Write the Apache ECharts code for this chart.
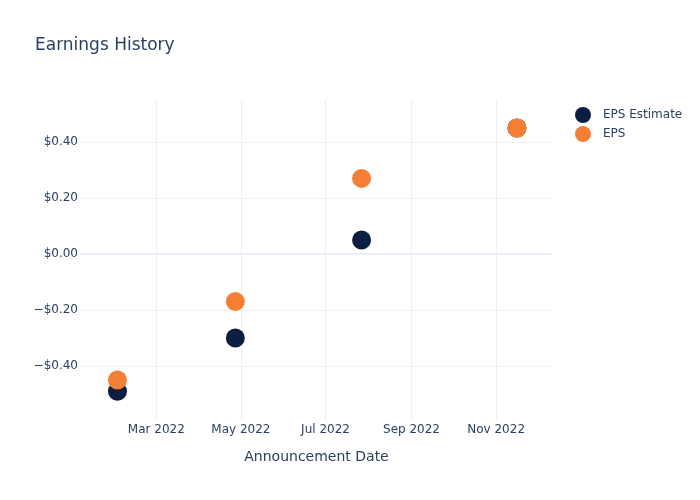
<!DOCTYPE html>
<html>
<head>
<meta charset="utf-8">
<script src="https://cdn.jsdelivr.net/npm/echarts@6/dist/echarts.min.js"></script>
<style>html,body{margin:0;padding:0;background:#fff}#c{width:700px;height:500px}</style>
</head>
<body>
<div id="c"></div>
<script>
var dates = ['2022-02-01', '2022-04-27', '2022-07-27', '2022-11-16'];
var epsEstimate = [-0.49, -0.30, 0.05, 0.45];
var eps = [-0.45, -0.17, 0.27, 0.45];
var yTicks = [-0.4, -0.2, 0, 0.2, 0.4];
var xTicks = ['2022-03-01', '2022-05-01', '2022-07-01', '2022-09-01', '2022-11-01'];
var monthNames = ['Jan','Feb','Mar','Apr','May','Jun','Jul','Aug','Sep','Oct','Nov','Dec'];

function ts(s){ return new Date(s + 'T00:00:00Z').getTime(); }
function pair(xs, ys){ return xs.map(function(d,i){ return [ts(d), ys[i]]; }); }
var xTickVals = xTicks.map(ts);

var font = 'DejaVu Sans';
var txt = '#2a3f5f';
var chart = echarts.init(document.getElementById('c'), null, {renderer:'canvas'});
chart.setOption({
  animation: false,
  backgroundColor: '#fff',
  textStyle: {fontFamily: font},
  title: {text: 'Earnings History', left: 30, top: 32, textStyle: {fontFamily: font, fontSize: 17, fontWeight: 'normal', color: txt}},
  legend: {
    orient: 'vertical', left: 570, top: 102, itemGap: 3, itemWidth: 16, itemHeight: 16,
    icon: 'circle',
    textStyle: {fontFamily: font, fontSize: 12, color: txt, padding: [0, 0, 0, 7]},
    data: ['EPS Estimate', 'EPS']
  },
  grid: {left: 80, right: 147, top: 100, bottom: 80, containLabel: false},
  xAxis: {
    type: 'value',
    min: ts('2022-01-05'), max: ts('2022-12-12'),
    name: 'Announcement Date', nameLocation: 'middle', nameGap: 30,
    nameTextStyle: {fontFamily: font, fontSize: 14, color: txt},
    axisLine: {show: false}, 
    axisTick: {show: false, customValues: xTickVals},
    axisLabel: {customValues: xTickVals, margin: 4, fontFamily: font, fontSize: 12, color: txt,
      formatter: function(v){ var d = new Date(v); return monthNames[d.getUTCMonth()] + ' ' + d.getUTCFullYear(); }},
    splitLine: {show: true, lineStyle: {color: '#EBF0F8', width: 1}}
  },
  yAxis: {
    type: 'value', min: -0.593, max: 0.55,
    axisLine: {show: false},
    axisTick: {show: false, customValues: yTicks},
    axisLabel: {customValues: yTicks, margin: 2, fontFamily: font, fontSize: 12, color: txt,
      formatter: function(v){ var s = '$' + Math.abs(v).toFixed(2); return v < -1e-9 ? '\u2212' + s : s; }},
    splitLine: {show: true, lineStyle: {color: '#EBF0F8', width: 1}}
  },
  series: [
    {name: 'EPS Estimate', type: 'scatter', symbolSize: 19, data: pair(dates, epsEstimate),
     itemStyle: {color: '#0c1f40', opacity: 1},
     markLine: {silent: true, symbol: 'none', label: {show: false}, lineStyle: {color: '#EBF0F8', width: 2, type: 'solid'}, data: [{yAxis: 0}]}},
    {name: 'EPS', type: 'scatter', symbolSize: 19, data: pair(dates, eps),
     itemStyle: {color: '#f58035', opacity: 1}}
  ]
});
</script>
</body>
</html>
